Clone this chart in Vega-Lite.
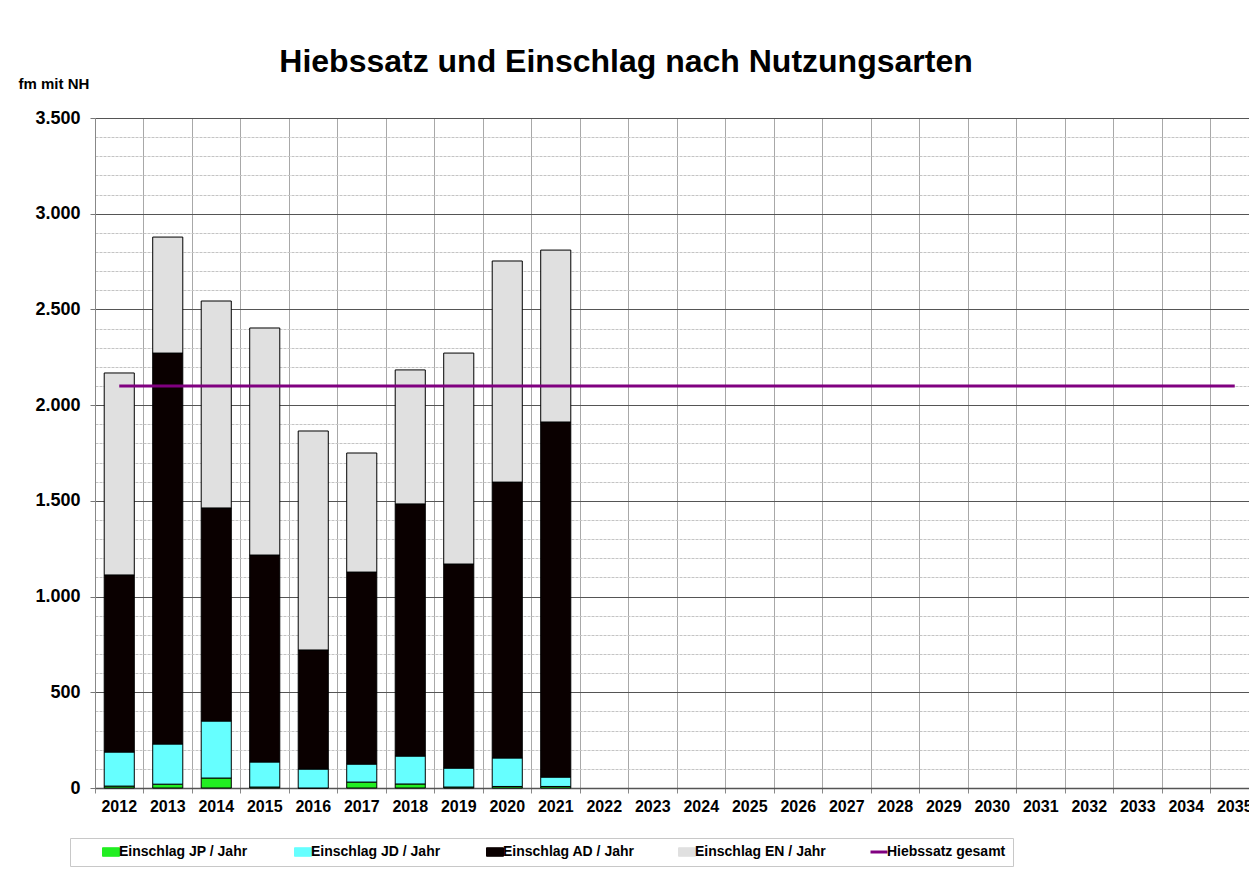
{
  "$schema": "https://vega.github.io/schema/vega-lite/v6.json",
  "width": 1154,
  "height": 670,
  "autosize": {"type": "none"},
  "padding": {"left": 95, "top": 118, "right": 0, "bottom": 82},
  "background": "white",
  "config": {"view": {"stroke": null}, "font": "Liberation Sans"},
  "title": {
    "text": "Hiebssatz und Einschlag nach Nutzungsarten",
    "fontSize": 32, "fontWeight": "bold", "font": "Liberation Sans", "color": "#000",
    "anchor": "middle", "dx": -46, "offset": -28, "baseline": "alphabetic"
  },
  "datasets": {
    "einschlag": [
      {"jahr": 2012, "serie": "Einschlag JP / Jahr", "wert": 10},
      {"jahr": 2012, "serie": "Einschlag JD / Jahr", "wert": 178},
      {"jahr": 2012, "serie": "Einschlag AD / Jahr", "wert": 925},
      {"jahr": 2012, "serie": "Einschlag EN / Jahr", "wert": 1055},
      {"jahr": 2013, "serie": "Einschlag JP / Jahr", "wert": 20},
      {"jahr": 2013, "serie": "Einschlag JD / Jahr", "wert": 210},
      {"jahr": 2013, "serie": "Einschlag AD / Jahr", "wert": 2042},
      {"jahr": 2013, "serie": "Einschlag EN / Jahr", "wert": 606},
      {"jahr": 2014, "serie": "Einschlag JP / Jahr", "wert": 52},
      {"jahr": 2014, "serie": "Einschlag JD / Jahr", "wert": 298},
      {"jahr": 2014, "serie": "Einschlag AD / Jahr", "wert": 1113},
      {"jahr": 2014, "serie": "Einschlag EN / Jahr", "wert": 1081},
      {"jahr": 2015, "serie": "Einschlag JP / Jahr", "wert": 5},
      {"jahr": 2015, "serie": "Einschlag JD / Jahr", "wert": 131},
      {"jahr": 2015, "serie": "Einschlag AD / Jahr", "wert": 1081},
      {"jahr": 2015, "serie": "Einschlag EN / Jahr", "wert": 1186},
      {"jahr": 2016, "serie": "Einschlag JP / Jahr", "wert": 0},
      {"jahr": 2016, "serie": "Einschlag JD / Jahr", "wert": 99},
      {"jahr": 2016, "serie": "Einschlag AD / Jahr", "wert": 622},
      {"jahr": 2016, "serie": "Einschlag EN / Jahr", "wert": 1144},
      {"jahr": 2017, "serie": "Einschlag JP / Jahr", "wert": 31},
      {"jahr": 2017, "serie": "Einschlag JD / Jahr", "wert": 94},
      {"jahr": 2017, "serie": "Einschlag AD / Jahr", "wert": 1003},
      {"jahr": 2017, "serie": "Einschlag EN / Jahr", "wert": 622},
      {"jahr": 2018, "serie": "Einschlag JP / Jahr", "wert": 21},
      {"jahr": 2018, "serie": "Einschlag JD / Jahr", "wert": 146},
      {"jahr": 2018, "serie": "Einschlag AD / Jahr", "wert": 1317},
      {"jahr": 2018, "serie": "Einschlag EN / Jahr", "wert": 700},
      {"jahr": 2019, "serie": "Einschlag JP / Jahr", "wert": 5},
      {"jahr": 2019, "serie": "Einschlag JD / Jahr", "wert": 99},
      {"jahr": 2019, "serie": "Einschlag AD / Jahr", "wert": 1066},
      {"jahr": 2019, "serie": "Einschlag EN / Jahr", "wert": 1102},
      {"jahr": 2020, "serie": "Einschlag JP / Jahr", "wert": 8},
      {"jahr": 2020, "serie": "Einschlag JD / Jahr", "wert": 149},
      {"jahr": 2020, "serie": "Einschlag AD / Jahr", "wert": 1441},
      {"jahr": 2020, "serie": "Einschlag EN / Jahr", "wert": 1155},
      {"jahr": 2021, "serie": "Einschlag JP / Jahr", "wert": 8},
      {"jahr": 2021, "serie": "Einschlag JD / Jahr", "wert": 49},
      {"jahr": 2021, "serie": "Einschlag AD / Jahr", "wert": 1855},
      {"jahr": 2021, "serie": "Einschlag EN / Jahr", "wert": 898}
    ],
    "hiebssatz": [
      {"jahr": 2012, "serie": "Hiebssatz gesamt", "wert": 2100},
      {"jahr": 2013, "serie": "Hiebssatz gesamt", "wert": 2100},
      {"jahr": 2014, "serie": "Hiebssatz gesamt", "wert": 2100},
      {"jahr": 2015, "serie": "Hiebssatz gesamt", "wert": 2100},
      {"jahr": 2016, "serie": "Hiebssatz gesamt", "wert": 2100},
      {"jahr": 2017, "serie": "Hiebssatz gesamt", "wert": 2100},
      {"jahr": 2018, "serie": "Hiebssatz gesamt", "wert": 2100},
      {"jahr": 2019, "serie": "Hiebssatz gesamt", "wert": 2100},
      {"jahr": 2020, "serie": "Hiebssatz gesamt", "wert": 2100},
      {"jahr": 2021, "serie": "Hiebssatz gesamt", "wert": 2100},
      {"jahr": 2022, "serie": "Hiebssatz gesamt", "wert": 2100},
      {"jahr": 2023, "serie": "Hiebssatz gesamt", "wert": 2100},
      {"jahr": 2024, "serie": "Hiebssatz gesamt", "wert": 2100},
      {"jahr": 2025, "serie": "Hiebssatz gesamt", "wert": 2100},
      {"jahr": 2026, "serie": "Hiebssatz gesamt", "wert": 2100},
      {"jahr": 2027, "serie": "Hiebssatz gesamt", "wert": 2100},
      {"jahr": 2028, "serie": "Hiebssatz gesamt", "wert": 2100},
      {"jahr": 2029, "serie": "Hiebssatz gesamt", "wert": 2100},
      {"jahr": 2030, "serie": "Hiebssatz gesamt", "wert": 2100},
      {"jahr": 2031, "serie": "Hiebssatz gesamt", "wert": 2100},
      {"jahr": 2032, "serie": "Hiebssatz gesamt", "wert": 2100},
      {"jahr": 2033, "serie": "Hiebssatz gesamt", "wert": 2100},
      {"jahr": 2034, "serie": "Hiebssatz gesamt", "wert": 2100},
      {"jahr": 2035, "serie": "Hiebssatz gesamt", "wert": 2100}
    ]
  },
  "layer": [
    {
      "data": {"name": "einschlag"},
      "transform": [
        {"calculate": "indexof(['Einschlag JP / Jahr','Einschlag JD / Jahr','Einschlag AD / Jahr','Einschlag EN / Jahr'], datum.serie)", "as": "reihenfolge"}
      ],
      "mark": {"type": "bar", "stroke": "#000", "strokeWidth": 1, "width": {"band": 0.62}},
      "encoding": {
        "x": {
          "field": "jahr", "type": "ordinal",
          "scale": {
            "domain": [2012,2013,2014,2015,2016,2017,2018,2019,2020,2021,2022,2023,2024,2025,2026,2027,2028,2029,2030,2031,2032,2033,2034,2035],
            "range": [0, 1164], "paddingInner": 0, "paddingOuter": 0
          },
          "axis": {
            "title": null, "labelAngle": 0, "bandPosition": 0,
            "labelFontSize": 16, "labelFontWeight": "bold", "labelColor": "#000", "labelFont": "Liberation Sans",
            "labelPadding": 5, "tickSize": 5, "tickColor": "#888", "labelOverlap": false, "labelBound": false,
            "grid": true, "gridColor": "#a8a8a8", "gridWidth": 1,
            "domainColor": "#555", "domainWidth": 1.5
          }
        },
        "y": {
          "field": "wert", "type": "quantitative", "stack": "zero",
          "scale": {"domain": [0, 3500], "nice": false},
          "axis": {
            "title": "fm mit NH", "titleAngle": 0, "titleAlign": "left", "titleBaseline": "middle",
            "titleX": -77, "titleY": -35, "titleFontSize": 15, "titleFontWeight": "bold", "titleColor": "#000", "titleFont": "Liberation Sans",
            "values": [0,100,200,300,400,500,600,700,800,900,1000,1100,1200,1300,1400,1500,1600,1700,1800,1900,2000,2100,2200,2300,2400,2500,2600,2700,2800,2900,3000,3100,3200,3300,3400,3500],
            "tickCount": 100,
            "labelExpr": "datum.value % 500 === 0 ? replace(format(datum.value, ','), ',', '.') : ''",
            "labelFontSize": 18, "labelFontWeight": "bold", "labelColor": "#000", "labelFont": "Liberation Sans",
            "labelPadding": 10, "labelOverlap": false,
            "tickSize": 5, "tickColor": "#777",
            "tickOpacity": {"condition": {"test": "datum.value % 500 === 0", "value": 1}, "value": 0},
            "grid": true,
            "gridColor": {"condition": {"test": "datum.value % 500 === 0", "value": "#555"}, "value": "#c4c4c4"},
            "gridDash": {"condition": {"test": "datum.value % 500 === 0", "value": []}, "value": [3, 1]},
            "domainColor": "#888"
          }
        },
        "color": {
          "field": "serie", "type": "nominal",
          "scale": {
            "domain": ["Einschlag JP / Jahr", "Einschlag JD / Jahr", "Einschlag AD / Jahr", "Einschlag EN / Jahr", "Hiebssatz gesamt"],
            "range": ["#22ee22", "#66ffff", "#0a0000", "#e0e0e0", "#800080"]
          },
          "legend": {
            "orient": "none", "legendX": -25, "legendY": 720, "direction": "horizontal", "title": null,
            "strokeColor": "#c8c8c8", "fillColor": "#fff", "padding": 7, "columnPadding": 18, "gridAlign": "all",
            "labelFont": "Liberation Sans", "labelFontSize": 14, "labelFontWeight": "bold", "labelColor": "#000",
            "labelOffset": 1, "symbolSize": 289, "symbolOffset": 27,
            "symbolType": {"expr": "datum.value === 'Hiebssatz gesamt' ? 'M-1,0H1' : 'M-1,-0.5H1V0.5H-1Z'"},
            "symbolStrokeWidth": {"expr": "datum.value === 'Hiebssatz gesamt' ? 3 : 1"},
            "symbolStrokeColor": "#000",
            "symbolOpacity": 1
          }
        },
        "order": {"field": "reihenfolge", "type": "quantitative", "sort": "ascending"}
      }
    },
    {
      "data": {"name": "hiebssatz"},
      "mark": {"type": "line", "strokeWidth": 3},
      "encoding": {
        "x": {"field": "jahr", "type": "ordinal"},
        "y": {"field": "wert", "type": "quantitative"},
        "color": {"field": "serie", "type": "nominal", "legend": null}
      }
    }
  ]
}
